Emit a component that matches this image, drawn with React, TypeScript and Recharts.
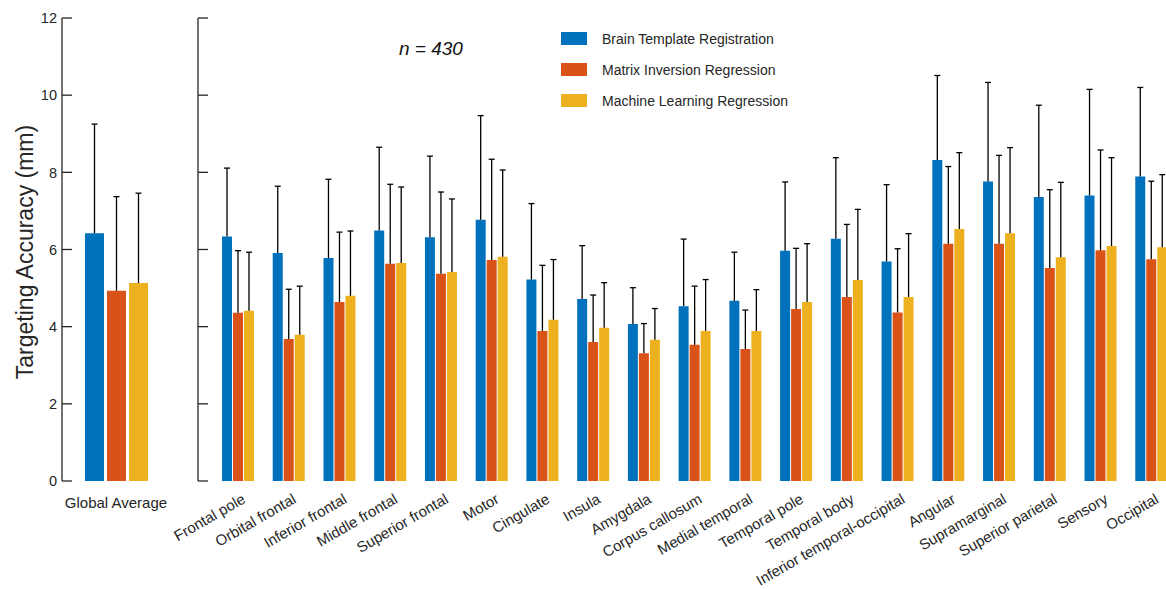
import { BarChart, Bar, XAxis, YAxis } from "recharts";

const FONT = '"Liberation Sans", Arial, Helvetica, sans-serif';
const INK = "#262626";

const seriesNames = [
  "Brain Template Registration",
  "Matrix Inversion Regression",
  "Machine Learning Regression",
];
const colors = ["#0072BD", "#D95319", "#EDB120"];

const regions = [
  "Frontal pole",
  "Orbital frontal",
  "Inferior frontal",
  "Middle frontal",
  "Superior frontal",
  "Motor",
  "Cingulate",
  "Insula",
  "Amygdala",
  "Corpus callosum",
  "Medial temporal",
  "Temporal pole",
  "Temporal body",
  "Inferior temporal-occipital",
  "Angular",
  "Supramarginal",
  "Superior parietal",
  "Sensory",
  "Occipital",
];

const brainMean = [6.34, 5.91, 5.78, 6.49, 6.32, 6.77, 5.22, 4.72, 4.07, 4.53, 4.67, 5.97, 6.28, 5.69, 8.32, 7.76, 7.36, 7.4, 7.89];
const brainSd = [1.77, 1.73, 2.04, 2.16, 2.1, 2.7, 1.97, 1.38, 0.94, 1.74, 1.26, 1.78, 2.1, 1.99, 2.19, 2.57, 2.38, 2.75, 2.31];
const matrixMean = [4.36, 3.68, 4.64, 5.63, 5.37, 5.73, 3.89, 3.6, 3.31, 3.53, 3.42, 4.46, 4.77, 4.37, 6.15, 6.15, 5.52, 5.98, 5.75];
const matrixSd = [1.61, 1.29, 1.81, 2.06, 2.12, 2.61, 1.7, 1.22, 0.77, 1.52, 1.01, 1.57, 1.88, 1.65, 2.0, 2.29, 2.03, 2.6, 2.02];
const mlMean = [4.41, 3.79, 4.8, 5.65, 5.42, 5.81, 4.18, 3.97, 3.66, 3.89, 3.89, 4.64, 5.21, 4.77, 6.53, 6.42, 5.8, 6.09, 6.06];
const mlSd = [1.52, 1.26, 1.68, 1.97, 1.89, 2.25, 1.56, 1.17, 0.81, 1.33, 1.07, 1.51, 1.83, 1.64, 1.98, 2.22, 1.94, 2.29, 1.88];

const globalLabel = ["Global Average"];
const globalMean = [6.42, 4.93, 5.13];
const globalSd = [2.83, 2.44, 2.33];

const yTicks = [0, 2, 4, 6, 8, 10, 12];

const regionData = regions.map((name, i) => ({
  name,
  brain: brainMean[i],
  brainSd: brainSd[i],
  matrix: matrixMean[i],
  matrixSd: matrixSd[i],
  ml: mlMean[i],
  mlSd: mlSd[i],
}));

const globalData = globalLabel.map((name) => ({
  name,
  brain: globalMean[0],
  brainSd: globalSd[0],
  matrix: globalMean[1],
  matrixSd: globalSd[1],
  ml: globalMean[2],
  mlSd: globalSd[2],
}));

// upper-only error bar drawn in the stacked segment above each bar
const ErrShape = (props: any) => {
  const { x, y, width, height } = props;
  const cx = x + width / 2;
  return (
    <g>
      <line x1={cx} x2={cx} y1={y} y2={y + height} stroke="#000" strokeWidth={1.3} />
      <line x1={cx - 3} x2={cx + 3} y1={y} y2={y} stroke="#000" strokeWidth={1.3} />
    </g>
  );
};

const YTick = (props: any) => {
  const { x, y, payload, showLabel } = props;
  return (
    <g>
      <line x1={x} x2={x + 10} y1={y} y2={y} stroke={INK} strokeWidth={1.3} />
      {showLabel && (
        <text x={x - 5} y={y} dy="0.36em" textAnchor="end" fontSize={14.5} fill={INK} fontFamily={FONT}>
          {payload.value}
        </text>
      )}
    </g>
  );
};

const CatTick = (props: any) => {
  const { x, y, payload } = props;
  const ax = x + 8;
  const ay = y + 21;
  return (
    <text
      x={ax}
      y={ay}
      textAnchor="end"
      fontSize={15}
      fill={INK}
      fontFamily={FONT}
      transform={`rotate(-30, ${ax}, ${ay})`}
    >
      {payload.value}
    </text>
  );
};

const GlobalTick = (props: any) => {
  const { x, y, payload } = props;
  return (
    <text x={x} y={y + 27} textAnchor="middle" fontSize={15} fill={INK} fontFamily={FONT}>
      {payload.value}
    </text>
  );
};

function series() {
  return [
    <Bar key="b" dataKey="brain" stackId="b" fill={colors[0]} isAnimationActive={false} />,
    <Bar key="bs" dataKey="brainSd" stackId="b" shape={ErrShape} isAnimationActive={false} />,
    <Bar key="m" dataKey="matrix" stackId="m" fill={colors[1]} isAnimationActive={false} />,
    <Bar key="ms" dataKey="matrixSd" stackId="m" shape={ErrShape} isAnimationActive={false} />,
    <Bar key="l" dataKey="ml" stackId="l" fill={colors[2]} isAnimationActive={false} />,
    <Bar key="ls" dataKey="mlSd" stackId="l" shape={ErrShape} isAnimationActive={false} />,
  ];
}

export default function App() {
  return (
    <div
      style={{
        position: "fixed",
        left: 0,
        top: 0,
        width: 1166,
        height: 589,
        overflow: "hidden",
        background: "#fff",
        fontFamily: FONT,
      }}
    >
      <div style={{ position: "absolute", left: 0, top: 0 }}>
        <BarChart
          width={1177}
          height={589}
          data={regionData}
          margin={{ top: 18, right: 0, bottom: 78, left: 0 }}
          barSize={10}
          barGap={1}
        >
          <XAxis
            dataKey="name"
            interval={0}
            axisLine={false}
            tickLine={false}
            tickSize={0}
            tickMargin={0}
            height={30}
            padding={{ left: 15, right: 0 }}
            tick={<CatTick />}
          />
          <YAxis
            domain={[0, 12]}
            ticks={yTicks}
            width={198}
            tickLine={false}
            tickSize={0}
            tickMargin={0}
            axisLine={{ stroke: INK, strokeWidth: 1.3 }}
            tick={<YTick showLabel={false} />}
          />
          {series()}
        </BarChart>
      </div>

      <div style={{ position: "absolute", left: 0, top: 0 }}>
        <BarChart
          width={170}
          height={589}
          data={globalData}
          margin={{ top: 18, right: 0, bottom: 78, left: 0 }}
          barSize={19}
          barGap={3}
        >
          <XAxis
            dataKey="name"
            axisLine={false}
            tickLine={false}
            tickSize={0}
            tickMargin={0}
            height={30}
            tick={<GlobalTick />}
          />
          <YAxis
            domain={[0, 12]}
            ticks={yTicks}
            width={62}
            tickLine={false}
            tickSize={0}
            tickMargin={0}
            axisLine={{ stroke: INK, strokeWidth: 1.3 }}
            tick={<YTick showLabel={true} />}
          />
          {series()}
        </BarChart>
      </div>

      <div
        style={{
          position: "absolute",
          left: 25,
          top: 252,
          transform: "translate(-50%, -50%) rotate(-90deg)",
          whiteSpace: "nowrap",
          fontSize: 23,
          color: INK,
        }}
      >
        Targeting Accuracy (mm)
      </div>

      <div
        style={{
          position: "absolute",
          left: 399,
          top: 38,
          fontSize: 19,
          fontStyle: "italic",
          color: "#111",
          whiteSpace: "nowrap",
        }}
      >
        n = 430
      </div>

      <div style={{ position: "absolute", left: 561, top: 32 }}>
        {seriesNames.map((s, i) => (
          <div key={s} style={{ display: "flex", alignItems: "center", height: 13, marginBottom: 18 }}>
            <div style={{ width: 26, height: 13, background: colors[i] }} />
            <span style={{ marginLeft: 15, fontSize: 14, color: INK, whiteSpace: "nowrap" }}>{s}</span>
          </div>
        ))}
      </div>
    </div>
  );
}
